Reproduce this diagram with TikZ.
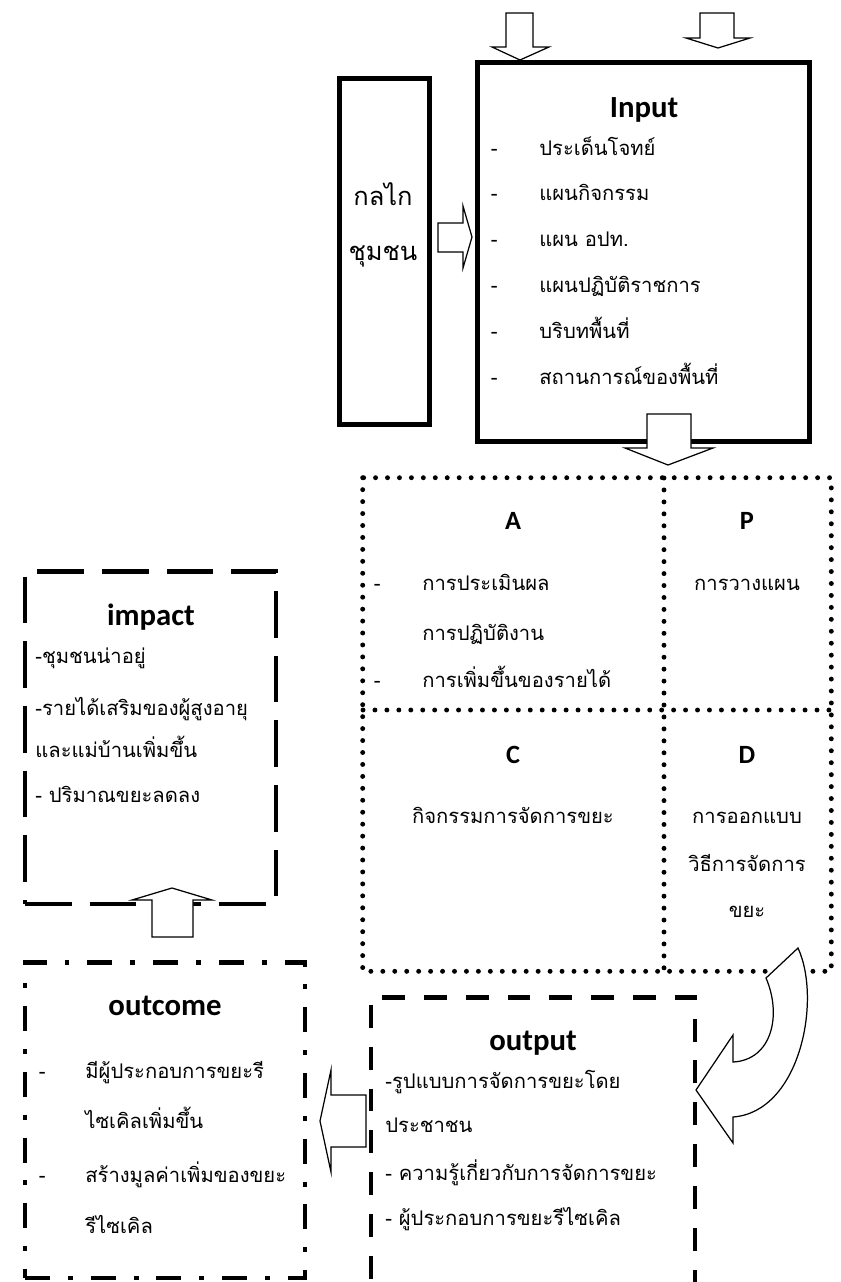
\documentclass[tikz,border=0pt]{standalone}
\usepackage{fontspec}
\setmainfont{Carlito}
\newfontfamily\thaifont[Script=Thai]{Loma}
\usetikzlibrary{positioning}

\begin{document}
\begin{tikzpicture}[x=0.02cm, y=-0.02cm,
  solidbox/.style = {draw, line width=2.8pt, inner sep=0},
  longdash/.style = {draw, line width=2.8pt, inner sep=0, dash pattern=on 26.6pt off 10.2pt},
  shortdash/.style = {draw, line width=2.8pt, inner sep=0, dash pattern=on 13pt off 10.8pt},
  dashdot/.style = {draw, line width=2.8pt, inner sep=0, dash pattern=on 14.2pt off 10.2pt on 2.8pt off 10.2pt},
  dotline/.style = {line width=2.8pt, line cap=round, dash pattern=on 0pt off 6.8pt},
  blockarrow/.style = {draw, fill=white, line width=0.7pt},
  head/.style = {font=\bfseries\fontsize{17.5}{20}\selectfont, anchor=base, inner sep=0},
  letter/.style = {font=\bfseries\fontsize{15}{18}\selectfont, anchor=base, inner sep=0},
  item/.style = {font=\thaifont\fontsize{11.5}{14}\selectfont, anchor=base west, inner sep=0},
  citem/.style = {item, anchor=base},
  big/.style = {font=\thaifont\fontsize{14.5}{17}\selectfont, anchor=base, inner sep=0}]
  \useasboundingbox (0,0) rectangle (841,1282);

  % Boxes
  \node[solidbox, minimum width=1.8cm, minimum height=6.92cm] (mech) at (384.5,251.5) {};
  \node[solidbox, minimum width=6.64cm, minimum height=7.58cm] (input) at (643.5,252) {};
  \node[inner sep=0, minimum width=9.36cm, minimum height=9.86cm] (pdca) at (597,724.5) {};
  \draw[dotline] (pdca.north west) rectangle (pdca.south east);
  \draw[dotline] (664,478) -- (664,971);
  \draw[dotline] (363,710) -- (831,710);
  \node[longdash, minimum width=5.02cm, minimum height=6.66cm] (impact) at (150.5,737.5) {};
  \node[dashdot, minimum width=5.6cm, minimum height=6.32cm] (outcome) at (165,1120) {};
  \node[shortdash, minimum width=6.48cm, minimum height=6.12cm] (output) at (533,1150) {};

  % Nodes
  \node[big] (mech1) at (383,205) {กลไก};
  \node[big] (mech2) at (383,260) {ชุมชน};

  \node[head] (intitle) at (644,117) {Input};
  \node[item] (in1) at (539,155) {ประเด็นโจทย์};
  \node[item] (in2) at (539,200) {แผนกิจกรรม};
  \node[item] (in3) at (539,246) {แผน อปท.};
  \node[item] (in4) at (539,292) {แผนปฏิบัติราชการ};
  \node[item] (in5) at (539,338) {บริบทพื้นที่};
  \node[item] (in6) at (539,384) {สถานการณ์ของพื้นที่};
  \node[item] (d1) [base left=0.82cm of in1] {-};
  \node[item] (d2) [base left=0.82cm of in2] {-};
  \node[item] (d3) [base left=0.82cm of in3] {-};
  \node[item] (d4) [base left=0.82cm of in4] {-};
  \node[item] (d5) [base left=0.82cm of in5] {-};
  \node[item] (d6) [base left=0.82cm of in6] {-};

  \node[letter] (A) at (513,529) {A};
  \node[letter] (P) at (747,529) {P};
  \node[letter] (C) at (513,763) {C};
  \node[letter] (D) at (747,763) {D};
  \node[item] (a1) at (422,590) {การประเมินผล};
  \node[item] (a2) at (422,640) {การปฏิบัติงาน};
  \node[item] (a3) at (422,687) {การเพิ่มขึ้นของรายได้};
  \node[item] (da1) [base left=0.82cm of a1] {-};
  \node[item] (da3) [base left=0.82cm of a3] {-};
  \node[citem] (p1) at (747,590) {การวางแผน};
  \node[citem] (c1) at (513,823) {กิจกรรมการจัดการขยะ};
  \node[citem] (dd1) at (747,823) {การออกแบบ};
  \node[citem] (dd2) at (747,871) {วิธีการจัดการ};
  \node[citem] (dd3) at (747,917) {ขยะ};

  \node[head] (imtitle) at (151,625) {impact};
  \node[item] (im1) at (35,663) {-ชุมชนน่าอยู่};
  \node[item] (im2) at (35,715) {-รายได้เสริมของผู้สูงอายุ};
  \node[item] (im3) at (35,757) {และแม่บ้านเพิ่มขึ้น};
  \node[item] (im4) at (35,802) {- ปริมาณขยะลดลง};

  \node[head] (octitle) at (165,1015) {outcome};
  \node[item] (oc1) at (85,1078) {มีผู้ประกอบการขยะรี};
  \node[item] (oc2) at (85,1128) {ไซเคิลเพิ่มขึ้น};
  \node[item] (oc3) at (85,1182) {สร้างมูลค่าเพิ่มของขยะ};
  \node[item] (oc4) at (85,1233) {รีไซเคิล};
  \node[item] (doc1) [base left=0.78cm of oc1] {-};
  \node[item] (doc3) [base left=0.78cm of oc3] {-};

  \node[head] (optitle) at (533,1050) {output};
  \node[item] (op1) at (385,1088) {-รูปแบบการจัดการขยะโดย};
  \node[item] (op2) at (385,1132) {ประชาชน};
  \node[item] (op3) at (385,1180) {- ความรู้เกี่ยวกับการจัดการขยะ};
  \node[item] (op4) at (385,1225) {- ผู้ประกอบการขยะรีไซเคิล};

  % Arrows
  \draw[blockarrow] (506,13) -- (533,13) -- (533,47) -- (549,47) -- (520,60) -- (492,47) -- (506,47) -- cycle;
  \draw[blockarrow] (700,13) -- (734,13) -- (734,38) -- (750,38) -- (718,48) -- (686,38) -- (700,38) -- cycle;
  \draw[blockarrow] (438,223) -- (463,223) -- (463,206) -- (472,237) -- (463,268) -- (463,252) -- (438,252) -- cycle;
  \draw[blockarrow] (647,414) -- (691,414) -- (691,448) -- (713,448) -- (668,465) -- (625,448) -- (647,448) -- cycle;
  \draw[blockarrow] (152,937) -- (193,937) -- (193,900) -- (212,900) -- (172,888) -- (132,900) -- (152,900) -- cycle;
  \draw[blockarrow] (366,1095) -- (331,1095) -- (331,1070) -- (320,1121) -- (331,1172) -- (331,1147) -- (366,1147) -- cycle;
  \draw[blockarrow] (766,978) -- (798,948) .. controls (822,1000) and (800,1112) .. (733,1117)
    -- (733,1143) -- (696,1090) -- (733,1035) -- (733,1062)
    .. controls (772,1060) and (782,1015) .. (766,978) -- cycle;
\end{tikzpicture}
\end{document}
